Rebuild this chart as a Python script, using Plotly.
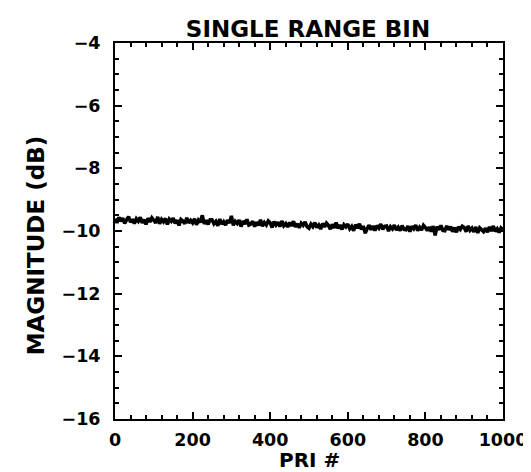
import plotly.graph_objects as go

# PRI index, every 5th pulse
pri = list(range(0, 1001, 5))

# magnitude (dB) of the single range bin
magnitude_db = [
    -9.61, -9.74, -9.56, -9.69, -9.59, -9.76, -9.64, -9.54, -9.72, -9.62,
    -9.76, -9.61, -9.69, -9.56, -9.74, -9.64, -9.79, -9.59, -9.71, -9.58,
    -9.66, -9.74, -9.55, -9.77, -9.63, -9.71, -9.60, -9.79, -9.62, -9.69,
    -9.59, -9.76, -9.65, -9.82, -9.63, -9.68, -9.77, -9.58, -9.74, -9.66,
    -9.74, -9.61, -9.80, -9.65, -9.72, -9.50, -9.77, -9.66, -9.79, -9.64,
    -9.64, -9.77, -9.69, -9.83, -9.62, -9.78, -9.70, -9.81, -9.65, -9.75,
    -9.52, -9.82, -9.69, -9.76, -9.65, -9.86, -9.68, -9.78, -9.63, -9.81,
    -9.78, -9.69, -9.86, -9.72, -9.82, -9.64, -9.85, -9.73, -9.81, -9.68,
    -9.74, -9.89, -9.70, -9.81, -9.72, -9.86, -9.68, -9.83, -9.76, -9.87,
    -9.73, -9.84, -9.69, -9.87, -9.77, -9.90, -9.75, -9.82, -9.71, -9.86,
    -9.91, -9.78, -9.86, -9.73, -9.89, -9.81, -9.94, -9.76, -9.87, -9.75,
    -9.82, -9.94, -9.79, -9.90, -9.73, -9.92, -9.81, -9.95, -9.80, -9.87,
    -9.78, -9.93, -9.85, -9.99, -9.80, -9.91, -9.77, -9.95, -9.84, -10.07,
    -9.92, -9.81, -9.96, -9.84, -9.99, -9.83, -9.91, -9.78, -9.95, -9.85,
    -9.84, -10.00, -9.86, -9.93, -9.81, -9.97, -9.88, -9.99, -9.83, -9.95,
    -9.96, -9.84, -10.02, -9.85, -9.93, -9.81, -9.99, -9.88, -9.97, -9.82,
    -9.89, -9.99, -9.87, -10.02, -9.84, -10.14, -9.86, -9.96, -9.82, -9.98,
    -9.99, -9.84, -9.96, -9.86, -10.02, -9.89, -10.04, -9.87, -9.95, -9.85,
    -9.89, -10.02, -9.84, -9.98, -9.91, -10.03, -9.87, -10.06, -9.90, -9.97,
    -10.02, -9.91, -10.04, -9.87, -10.00, -9.84, -10.01, -9.93, -10.05, -9.90,
    -9.95,
]

y_ticks = [-4, -6, -8, -10, -12, -14, -16]
x_ticks = [0, 200, 400, 600, 800, 1000]

FONT = "DejaVu Sans"

fig = go.Figure()
fig.add_trace(go.Scatter(
    x=pri, y=magnitude_db, mode="lines",
    line=dict(color="black", width=3.5),
    hoverinfo="skip",
))

axis_common = dict(
    showgrid=False, zeroline=False,
    showline=True, linecolor="black", linewidth=2, mirror="allticks",
    ticks="inside", ticklen=7, tickwidth=2, tickcolor="black",
    tickfont=dict(family=FONT, size=17.5, color="black", weight="bold"),
)

fig.update_xaxes(
    range=[0, 1000], tickvals=x_ticks, ticklabelstandoff=4,
    minor=dict(ticks="inside", dtick=40, ticklen=4, tickwidth=2, tickcolor="black"),
    **axis_common,
)
fig.update_yaxes(
    range=[-16, -4], tickvals=y_ticks, ticklabelstandoff=9,
    minor=dict(ticks="inside", dtick=0.5, ticklen=4, tickwidth=2, tickcolor="black"),
    **axis_common,
)

# axis titles as annotations so they sit where the scan has them
fig.add_annotation(text="PRI #", xref="paper", yref="paper", x=0.5, y=-0.108,
                   xanchor="center", yanchor="middle", showarrow=False,
                   font=dict(family=FONT, size=20, color="black", weight="bold"))
fig.add_annotation(text="MAGNITUDE (dB)", xref="paper", yref="paper", x=-0.205, y=0.463,
                   xanchor="center", yanchor="middle", textangle=-90, showarrow=False,
                   font=dict(family=FONT, size=23, color="black", weight="bold"))

fig.update_layout(
    width=531, height=472,
    margin=dict(l=107, r=33, t=35, b=61),
    paper_bgcolor="white", plot_bgcolor="white",
    showlegend=False,
    title=dict(text="SINGLE RANGE BIN", x=300 / 531, xanchor="center",
               y=1 - 21 / 472, yanchor="middle",
               font=dict(family=FONT, size=23, color="black", weight="bold")),
)

fig.write_html("out.html")
